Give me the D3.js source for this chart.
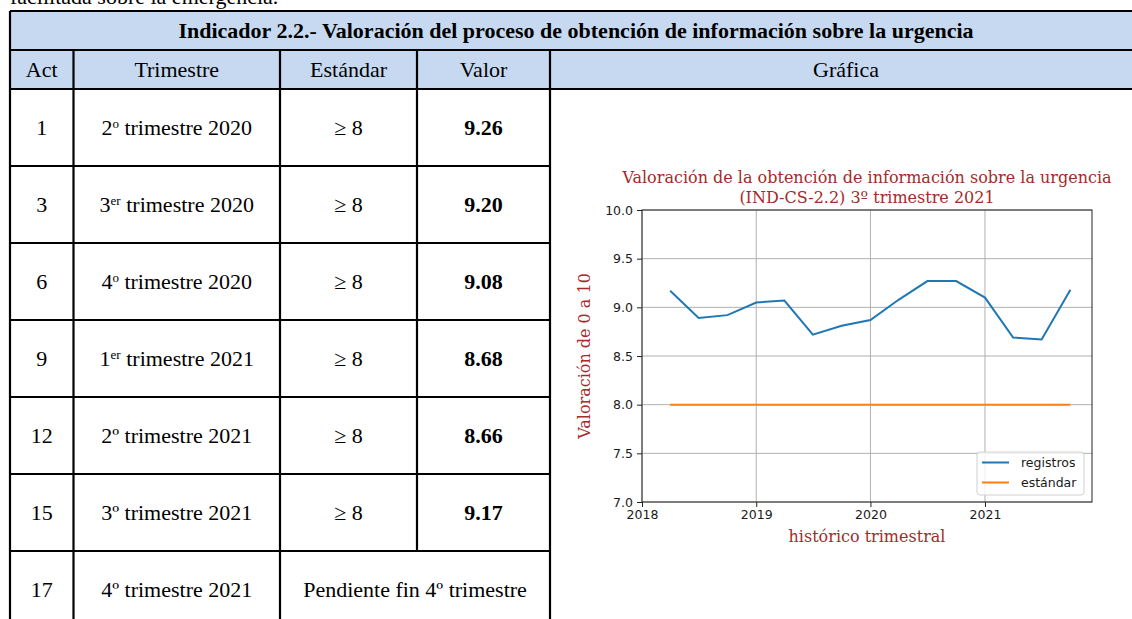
<!DOCTYPE html>
<html>
<head>
<meta charset="utf-8">
<script src="https://cdnjs.cloudflare.com/ajax/libs/d3/7.8.5/d3.min.js"></script>
<style>
  html, body { margin: 0; padding: 0; background: #fff; }
  svg { display: block; }
</style>
</head>
<body>
<div id="chart"></div>
<script>
// ---- table data
var acts = ["1", "3", "6", "9", "12", "15", "17"];
var trimNum = ["2", "3", "4", "1", "2", "3", "4"];
var trimSup = ["o", "er", "o", "er", "º", "º", "º"];
var trimYear = ["2020", "2020", "2020", "2021", "2021", "2021", "2021"];
var estandarTxt = ["≥ 8", "≥ 8", "≥ 8", "≥ 8", "≥ 8", "≥ 8", null];
var valores = ["9.26", "9.20", "9.08", "8.68", "8.66", "9.17", null];
var pendiente = "Pendiente fin 4º trimestre";
var headers = ["Act", "Trimestre", "Estándar", "Valor", "Gráfica"];

// ---- chart data (quarterly history)
var fechas = ["2018-04-01", "2018-07-01", "2018-10-01", "2019-01-01", "2019-04-01",
    "2019-07-01", "2019-10-01", "2020-01-01", "2020-04-01", "2020-07-01",
    "2020-10-01", "2021-01-01", "2021-04-01", "2021-07-01", "2021-10-01"];
var registros = [9.17, 8.89, 8.92, 9.05, 9.07, 8.72, 8.81, 8.87, 9.08, 9.27, 9.27, 9.10, 8.69, 8.67, 9.18];
var estandar = [8, 8, 8, 8, 8, 8, 8, 8, 8, 8, 8, 8, 8, 8, 8];
var yTicks = [7.0, 7.5, 8.0, 8.5, 9.0, 9.5, 10.0];
var xTickYears = ["2018", "2019", "2020", "2021"];

var width = 1132, height = 619;
var svg = d3.select("#chart").append("svg")
    .attr("width", width)
    .attr("height", height);

var serif = "'Liberation Serif', serif";
var fs = "22px";
var colX = [10, 73.5, 280, 417, 550, 1142];
var titleTop = 11, headTop = 50, rowTop = 89, rowH = 77;

// text cut off at the top of the page
svg.append("text")
    .attr("x", 10).attr("y", 4)
    .style("font-family", serif).style("font-size", fs)
    .text("facilitada sobre la emergencia.");

// header backgrounds
svg.append("rect")
    .attr("x", colX[0]).attr("y", titleTop)
    .attr("width", colX[5] - colX[0]).attr("height", rowTop - titleTop)
    .attr("fill", "#c6d9f1");

svg.append("text")
    .attr("x", (colX[0] + colX[5]) / 2).attr("y", (titleTop + headTop) / 2 + 7)
    .attr("text-anchor", "middle")
    .style("font-family", serif).style("font-size", fs).style("font-weight", "bold")
    .text("Indicador 2.2.- Valoración del proceso de obtención de información sobre la urgencia");

svg.selectAll(".hdr")
    .data(headers)
    .enter().append("text")
    .attr("x", function (d, i) { return (colX[i] + colX[i + 1]) / 2; })
    .attr("y", (headTop + rowTop) / 2 + 7)
    .attr("text-anchor", "middle")
    .style("font-family", serif).style("font-size", fs)
    .text(function (d) { return d; });

// body rows
var rowY = function (i) { return rowTop + i * rowH; };
var rows = svg.selectAll(".row")
    .data(acts)
    .enter().append("g")
    .attr("transform", function (d, i) { return "translate(0," + (rowY(i) + rowH / 2 + 7) + ")"; })
    .style("font-family", serif).style("font-size", fs);

rows.append("text")
    .attr("x", (colX[0] + colX[1]) / 2)
    .attr("text-anchor", "middle")
    .text(function (d) { return d; });

var trim = rows.append("text")
    .attr("x", (colX[1] + colX[2]) / 2)
    .attr("text-anchor", "middle");
trim.append("tspan").text(function (d, i) { return trimNum[i]; });
trim.append("tspan")
    .attr("dy", function (d, i) { return trimSup[i] === "º" ? 0 : -7; })
    .style("font-size", function (d, i) { return trimSup[i] === "º" ? null : "13px"; })
    .text(function (d, i) { return trimSup[i]; });
trim.append("tspan")
    .attr("dy", function (d, i) { return trimSup[i] === "º" ? 0 : 7; })
    .text(function (d, i) { return " trimestre " + trimYear[i]; });

rows.filter(function (d, i) { return estandarTxt[i] !== null; })
    .append("text")
    .attr("x", (colX[2] + colX[3]) / 2)
    .attr("text-anchor", "middle")
    .text(function (d) { return estandarTxt[acts.indexOf(d)]; });

rows.filter(function (d, i) { return valores[i] !== null; })
    .append("text")
    .attr("x", (colX[3] + colX[4]) / 2)
    .attr("text-anchor", "middle")
    .style("font-weight", "bold")
    .text(function (d) { return valores[acts.indexOf(d)]; });

rows.filter(function (d, i) { return valores[i] === null; })
    .append("text")
    .attr("x", (colX[2] + colX[4]) / 2)
    .attr("text-anchor", "middle")
    .text(pendiente);

// table borders
var lines = svg.append("g").attr("stroke", "#000").attr("stroke-width", 2.2);
// full-width lines: top, under title, under header
[titleTop, headTop, rowTop].forEach(function (y) {
    lines.append("line").attr("x1", colX[0]).attr("x2", colX[5]).attr("y1", y).attr("y2", y);
});
// row separators stop at the merged chart column
acts.slice(1).forEach(function (d, i) {
    var yy = rowY(i + 1);
    lines.append("line").attr("x1", colX[0]).attr("x2", colX[4]).attr("y1", yy).attr("y2", yy);
});
// outer verticals
lines.append("line").attr("x1", colX[0]).attr("x2", colX[0]).attr("y1", titleTop).attr("y2", height + 5);
lines.append("line").attr("x1", colX[5]).attr("x2", colX[5]).attr("y1", titleTop).attr("y2", height + 5);
// inner verticals
[1, 2, 4].forEach(function (c) {
    lines.append("line").attr("x1", colX[c]).attr("x2", colX[c]).attr("y1", headTop).attr("y2", height + 5);
});
// column 3 stops at the last row (merged cell)
lines.append("line").attr("x1", colX[3]).attr("x2", colX[3]).attr("y1", headTop).attr("y2", rowY(6));

// ---------------- chart
var plot = { left: 642, right: 1092, top: 210, bottom: 502 };
var parse = d3.timeParse("%Y-%m-%d");
var dates = fechas.map(parse);

var x = d3.scaleTime()
    .domain([parse("2018-01-01"), parse("2021-12-09")])
    .range([plot.left, plot.right]);
var y = d3.scaleLinear()
    .domain([7, 10])
    .range([plot.bottom, plot.top]);

var sans = "'DejaVu Sans', sans-serif";
var g = svg.append("g");

// grid
var yearDates = xTickYears.map(function (s) { return parse(s + "-01-01"); });
g.selectAll(".vgrid").data(yearDates).enter().append("line")
    .attr("x1", function (d) { return x(d); }).attr("x2", function (d) { return x(d); })
    .attr("y1", plot.top).attr("y2", plot.bottom)
    .attr("stroke", "#b0b0b0").attr("stroke-width", 1);
g.selectAll(".hgrid").data(yTicks).enter().append("line")
    .attr("x1", plot.left).attr("x2", plot.right)
    .attr("y1", function (d) { return y(d); }).attr("y2", function (d) { return y(d); })
    .attr("stroke", "#b0b0b0").attr("stroke-width", 1);

// axes
var xAxis = d3.axisBottom(x)
    .tickValues(yearDates)
    .tickFormat(d3.timeFormat("%Y"))
    .tickSize(5).tickPadding(3).tickSizeOuter(0);
var yAxis = d3.axisLeft(y)
    .tickValues(yTicks)
    .tickFormat(d3.format(".1f"))
    .tickSize(5).tickPadding(4).tickSizeOuter(0);

var gx = g.append("g").attr("transform", "translate(0," + plot.bottom + ")").call(xAxis);
var gy = g.append("g").attr("transform", "translate(" + plot.left + ",0)").call(yAxis);
[gx, gy].forEach(function (a) {
    a.select(".domain").remove();
    a.selectAll("text").style("font-family", sans).style("font-size", "12.5px").attr("fill", "#1a1a1a");
    a.selectAll("line").attr("stroke", "#222");
});

// frame
g.append("rect")
    .attr("x", plot.left).attr("y", plot.top)
    .attr("width", plot.right - plot.left).attr("height", plot.bottom - plot.top)
    .attr("fill", "none").attr("stroke", "#222").attr("stroke-width", 1);

// lines
var line = d3.line()
    .x(function (d, i) { return x(dates[i]); })
    .y(function (d) { return y(d); });
g.append("path").datum(registros)
    .attr("d", line).attr("fill", "none")
    .attr("stroke", "#1f77b4").attr("stroke-width", 2);
g.append("path").datum(estandar)
    .attr("d", line).attr("fill", "none")
    .attr("stroke", "#ff7f0e").attr("stroke-width", 2);

// titles
var red = "#a52a2a";
var serifC = "'DejaVu Serif', serif";
var cx = (plot.left + plot.right) / 2;
g.append("text").attr("x", cx).attr("y", 183)
    .attr("text-anchor", "middle")
    .style("font-family", serifC).style("font-size", "16px").attr("fill", red)
    .text("Valoración de la obtención de información sobre la urgencia");
g.append("text").attr("x", cx).attr("y", 203)
    .attr("text-anchor", "middle")
    .style("font-family", serifC).style("font-size", "16px").attr("fill", red)
    .text("(IND-CS-2.2) 3º trimestre 2021");
g.append("text").attr("x", cx).attr("y", 542)
    .attr("text-anchor", "middle")
    .style("font-family", serifC).style("font-size", "16px").attr("fill", red)
    .text("histórico trimestral");
g.append("text")
    .attr("transform", "translate(590," + (plot.top + plot.bottom) / 2 + ") rotate(-90)")
    .attr("text-anchor", "middle")
    .style("font-family", serifC).style("font-size", "16px").attr("fill", red)
    .text("Valoración de 0 a 10");

// legend
var legend = g.append("g").attr("transform", "translate(977,452)");
legend.append("rect")
    .attr("width", 107).attr("height", 43).attr("rx", 3)
    .attr("fill", "#fff").attr("fill-opacity", 0.8)
    .attr("stroke", "#d0d0d0");
var items = [{ name: "registros", color: "#1f77b4" }, { name: "estándar", color: "#ff7f0e" }];
var li = legend.selectAll(".li").data(items).enter().append("g")
    .attr("transform", function (d, i) { return "translate(0," + (10.5 + i * 20) + ")"; });
li.append("line").attr("x1", 5).attr("x2", 32)
    .attr("stroke", function (d) { return d.color; }).attr("stroke-width", 2);
li.append("text").attr("x", 44).attr("y", 4.5)
    .style("font-family", sans).style("font-size", "12.5px").attr("fill", "#1a1a1a")
    .text(function (d) { return d.name; });
</script>
</body>
</html>
